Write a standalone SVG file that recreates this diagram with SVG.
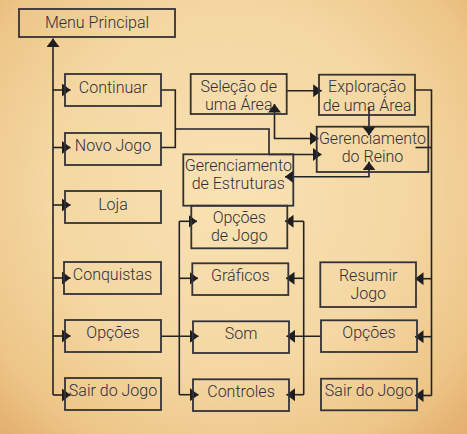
<svg xmlns="http://www.w3.org/2000/svg" width="467" height="434" viewBox="0 0 467 434">
<defs>
<radialGradient id="bg" cx="230" cy="190" r="330" gradientUnits="userSpaceOnUse">
<stop offset="0" stop-color="#f9e2b4"/>
<stop offset="0.55" stop-color="#f4d7a2"/>
<stop offset="0.85" stop-color="#edc587"/>
<stop offset="1" stop-color="#e4b170"/>
</radialGradient>
<marker id="ah" markerUnits="userSpaceOnUse" markerWidth="9" markerHeight="13" refX="8.5" refY="6.5" orient="auto-start-reverse">
<path d="M0,0 L8.5,6.5 L0,13 z" fill="#1e1e22"/>
</marker>
<style>
.b{fill:none;stroke:#333238;stroke-width:1.8}
.t{font-family:Roboto,"Liberation Sans",sans-serif;font-size:16px;font-weight:300;fill:#2f2e3a;text-anchor:middle}
.c{fill:none;stroke:#232326;stroke-width:1.6}
.a{marker-end:url(#ah)}
.s{marker-start:url(#ah)}
</style>
</defs>
<rect width="467" height="434" fill="url(#bg)"/>

<g id="connectors">
<path class="c a" d="M53,395 V38.5"/>
<path class="c a" d="M53,90 H70.5"/>
<path class="c a" d="M53,147.5 H70.5"/>
<path class="c a" d="M53,205 H70.5"/>
<path class="c a" d="M53,278 H70.5"/>
<path class="c a" d="M53,336 H70.5"/>
<path class="c a" d="M53,395 H70.5"/>

<path class="c" d="M161,90 H175.3 V147.5 H161"/>
<path class="c a" d="M175.3,129 H269 V154.5 H321.5"/>
<path class="c a" d="M286.7,90.7 H321.7"/>
<path class="c s a" d="M274.5,104 V138.5 H318.5"/>
<path class="c a" d="M369,107 V135.3"/>
<path class="c s a" d="M369,161.7 V176.7 H285"/>
<path class="c" d="M415,90 H431.5 V395.5"/>
<path class="c" d="M415.5,147.5 H431.5"/>
<path class="c a" d="M431.5,278.7 H415"/>
<path class="c a" d="M431.5,336.7 H415"/>
<path class="c a" d="M431.5,395.5 H415"/>

<path class="c" d="M179.3,221.3 V394.7"/>
<path class="c a" d="M179.3,221.3 H197"/>
<path class="c a" d="M179.3,278.3 H198"/>
<path class="c a" d="M161,336.3 H198.5"/>
<path class="c a" d="M179.3,394.7 H198.5"/>
<path class="c" d="M303.7,221.3 V394.7"/>
<path class="c a" d="M303.7,221.3 H285"/>
<path class="c a" d="M303.7,278.3 H286"/>
<path class="c a" d="M321,336.3 H286.5"/>
<path class="c a" d="M303.7,394.7 H286.5"/>
</g>

<g id="menu-principal"><rect class="b" x="19" y="9" width="156" height="28"/><text class="t" x="97" y="27.5">Menu Principal</text></g>
<g id="continuar"><rect class="b" x="65" y="74" width="96" height="32"/><text class="t" x="113" y="92.5">Continuar</text></g>
<g id="novo-jogo"><rect class="b" x="65" y="133" width="96" height="32"/><text class="t" x="113" y="151">Novo Jogo</text></g>
<g id="loja"><rect class="b" x="65" y="191" width="96" height="32"/><text class="t" x="113" y="209.5">Loja</text></g>
<g id="conquistas"><rect class="b" x="64" y="262" width="97" height="32"/><text class="t" x="112.5" y="280">Conquistas</text></g>
<g id="opcoes"><rect class="b" x="65" y="320" width="96" height="32"/><text class="t" x="113" y="338">Opções</text></g>
<g id="sair-do-jogo"><rect class="b" x="65" y="378" width="96" height="32"/><text class="t" x="113" y="396">Sair do Jogo</text></g>

<g id="selecao-area"><rect class="b" x="190.7" y="74" width="96" height="40"/><text class="t" x="238.7" y="91.7">Seleção de</text><text class="t" x="238.7" y="110">uma Área</text></g>
<g id="exploracao-area"><rect class="b" x="319" y="74.7" width="96" height="40.3"/><text class="t" x="367" y="92">Exploração</text><text class="t" x="367" y="110.7">de uma Área</text></g>
<g id="gerenciamento-reino"><rect class="b" x="316.7" y="126.7" width="111.6" height="45.3"/><text class="t" x="372.5" y="144">Gerenciamento</text><text class="t" x="372.5" y="162">do Reino</text></g>
<g id="gerenciamento-estruturas"><rect class="b" x="183.3" y="154.3" width="110" height="51.4"/><text class="t" x="238.3" y="171">Gerenciamento</text><text class="t" x="238.3" y="189.3">de Estruturas</text></g>

<g id="opcoes-de-jogo"><rect class="b" x="191.3" y="205.7" width="96" height="42.6"/><text class="t" x="239.3" y="223.3">Opções</text><text class="t" x="239.3" y="240.7">de Jogo</text></g>
<g id="graficos"><rect class="b" x="192.3" y="263.3" width="96" height="31.7"/><text class="t" x="240.3" y="280.7">Gráficos</text></g>
<g id="som"><rect class="b" x="193" y="321.3" width="96" height="31.7"/><text class="t" x="241" y="338.7">Som</text></g>
<g id="controles"><rect class="b" x="193" y="379.3" width="96" height="31.7"/><text class="t" x="241" y="396.7">Controles</text></g>

<g id="resumir-jogo"><rect class="b" x="320.3" y="262.3" width="95.7" height="44.7"/><text class="t" x="368.2" y="280.7">Resumir</text><text class="t" x="368.2" y="298.7">Jogo</text></g>
<g id="opcoes-2"><rect class="b" x="321" y="320.3" width="96" height="31.7"/><text class="t" x="369" y="338.3">Opções</text></g>
<g id="sair-do-jogo-2"><rect class="b" x="321" y="378.7" width="96" height="31.6"/><text class="t" x="369" y="396">Sair do Jogo</text></g>
</svg>
